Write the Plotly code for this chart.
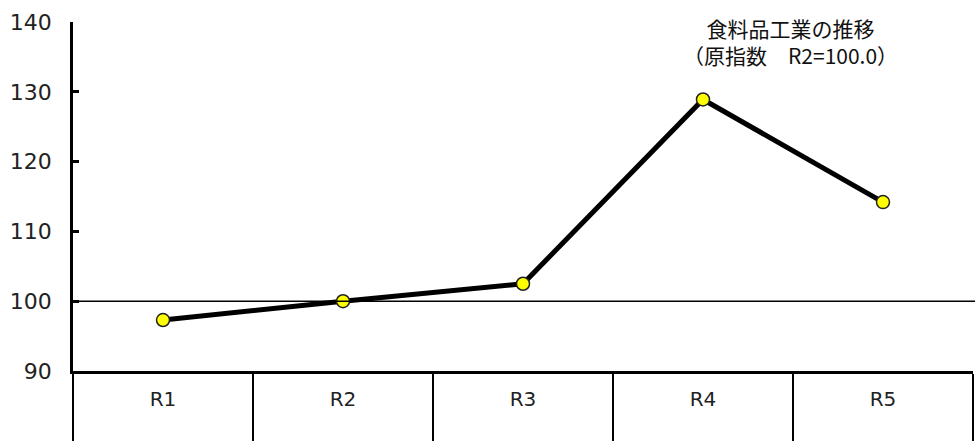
import plotly.graph_objects as go

categories = ["R1", "R2", "R3", "R4", "R5"]
values = [97.3, 100.0, 102.5, 128.9, 114.2]
ref_value = 100.0
y_ticks = [90, 100, 110, 120, 130, 140]
title_text = "食料品工業の推移<br>（原指数　R2=100.0）"

fig = go.Figure()
fig.add_trace(go.Scatter(
    x=categories, y=values, mode="lines+markers",
    line=dict(color="black", width=5),
    marker=dict(size=13, color="#FFFF00", line=dict(color="#222", width=1.5)),
    showlegend=False, cliponaxis=False,
))
# invisible trace to carry category labels on the overlay axis
fig.add_trace(go.Scatter(
    x=categories, y=values, xaxis="x2", mode="markers",
    marker=dict(opacity=0), hoverinfo="skip", showlegend=False,
))

fig.add_shape(type="line", xref="x domain", x0=0, x1=1.003, yref="y",
              y0=ref_value, y1=ref_value, line=dict(color="black", width=1.5))

fig.add_annotation(text=title_text, xref="paper", yref="paper", x=0.797, y=0.944,
                   showarrow=False, xanchor="center", yanchor="middle", align="center",
                   font=dict(family="Noto Sans CJK JP", size=21, color="#111"))

fig.update_layout(
    width=975, height=441,
    margin=dict(l=73, r=2, t=22, b=68),
    paper_bgcolor="white", plot_bgcolor="white",
    xaxis=dict(type="category", range=[-0.5, 4.5], showline=True, linecolor="black",
               linewidth=3, ticks="outside", tickson="boundaries", ticklen=68,
               tickwidth=2, tickcolor="black", showticklabels=False,
               showgrid=False, zeroline=False, fixedrange=True),
    xaxis2=dict(type="category", overlaying="x", matches="x", anchor="y", side="bottom",
                showline=False, ticks="outside", ticklen=10, tickcolor="rgba(0,0,0,0)",
                showgrid=False, zeroline=False,
                tickfont=dict(family="DejaVu Sans", size=20, color="#222")),
    yaxis=dict(range=[90, 140], tickvals=y_ticks, showline=True, linecolor="black",
               linewidth=2.5, ticks="inside", ticklen=6, tickwidth=2.5, tickcolor="black",
               showgrid=False, zeroline=False, ticklabelstandoff=14,
               tickfont=dict(family="DejaVu Sans", size=22, color="#222")),
)

fig.write_html("out.html", config={"displayModeBar": False},
               post_script="document.body.style.margin='0';document.body.style.overflow='hidden';")
